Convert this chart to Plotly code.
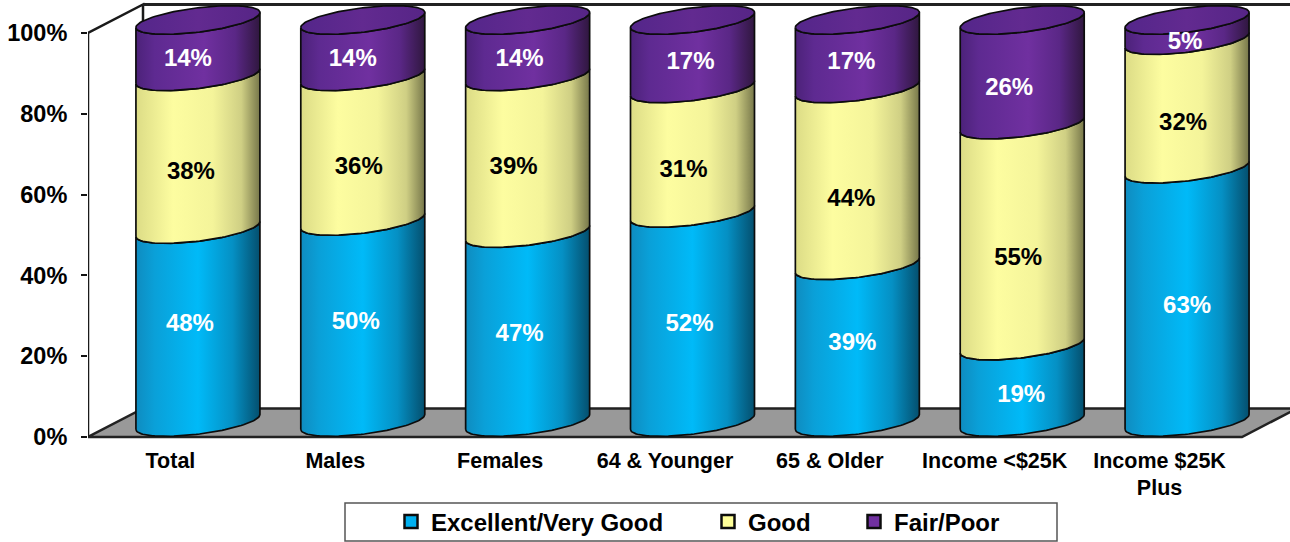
import numpy as np
import plotly.graph_objects as go

categories = ["Total", "Males", "Females", "64 &amp; Younger", "65 &amp; Older", "Income &lt;$25K", "Income $25K<br>Plus"]
excellent = [48, 50, 47, 52, 39, 19, 63]
good = [38, 36, 39, 31, 44, 55, 32]
fair = [14, 14, 14, 17, 17, 26, 5]
y_ticks = [0, 20, 40, 60, 80, 100]

# pixel nudges of the hand-placed data labels, relative to the middle of each band
nudge_x = {
    "e": [-8, -7, -8, -3, -5, -1, 0],
    "g": [-7, -4, -14, -9, -6, -4, -4],
    "f": [-10, -10, -8, -2, -6, -13, -2],
}
nudge_y = {
    "e": [-1, 1, 7, 8, 0, 12, 12],
    "g": [20, 19, 13, 20, 23, 24, 20],
    "f": [12, 12, 12, 9, 9, 17, 13],
}

FONT = "Liberation Sans"
PX_X = 1154 / 7          # pixels per category
PX_Y = 404 / 100         # pixels per percent
DX = 55 / PX_X           # chart depth in x units
DY = 28.5 / PX_Y         # chart depth in y units
A = 62 / PX_X            # cylinder radius, x
B = 12.2 / PX_Y          # ellipse minor, y
S = 7.5 / PX_Y           # ellipse tilt, y
Y0 = 15 / PX_Y           # base centre above the axis
K = 402 / 404            # height scale of the cylinders
X_OFF = 27.5 / PX_X      # cylinders sit at mid depth

BLUE = [[0, "#0f8cc0"], [0.15, "#0aa0d8"], [0.5, "#00baf8"], [0.78, "#0590c4"], [1, "#044f6e"]]
YELLOW = [[0, "#dcdc86"], [0.3, "#fdfda0"], [0.62, "#f4f49a"], [0.85, "#cfcf84"], [1, "#77774a"]]
PURPLE = [[0, "#4c2279"], [0.15, "#5e2a91"], [0.55, "#7030a0"], [0.8, "#5a2786"], [1, "#30173f"]]
TOP = [[0, "#54268a"], [0.5, "#622a90"], [1, "#562586"]]

T_FRONT = np.linspace(np.pi, 2 * np.pi, 60)
T_BACK = np.linspace(0, np.pi, 60)


def arc(cx, yc, t):
    return cx + A * np.cos(t), yc + B * np.sin(t) + S * np.cos(t)


fig = go.Figure()
common = dict(mode="lines", hoverinfo="skip", showlegend=False, cliponaxis=False)

# floor (its outline doubles as the category axis line)
fig.add_trace(go.Scatter(
    x=[-0.5, -0.5 + DX, 6.5 + DX, 6.5, -0.5], y=[0, DY, DY, 0, 0],
    fill="toself", fillcolor="#999999", line=dict(color="#222222", width=2.5), **common))
# value axis line and back wall outline
fig.add_trace(go.Scatter(
    x=[-0.5, -0.5, -0.5 + DX, -0.5 + DX], y=[0, 100, 100 + DY, DY],
    line=dict(color="#1a1a1a", width=2.5), **common))
fig.add_trace(go.Scatter(
    x=[-0.5 + DX, 6.5 + DX], y=[100 + DY, 100 + DY],
    line=dict(color="#222222", width=3), **common))

# cylinders
for i in range(len(categories)):
    cx = i + X_OFF
    base = 0
    for vals, scale in ((excellent, BLUE), (good, YELLOW), (fair, PURPLE)):
        lo = Y0 + base * K
        hi = Y0 + (base + vals[i]) * K
        xl, yl = arc(cx, lo, T_FRONT)
        xh, yh = arc(cx, hi, T_FRONT[::-1])
        fig.add_trace(go.Scatter(
            x=np.r_[xl, xh, xl[0]], y=np.r_[yl, yh, yl[0]],
            fill="toself", fillgradient=dict(type="horizontal", colorscale=scale),
            line=dict(color="#0c0c0c", width=1.7), **common))
        base += vals[i]
    yc = Y0 + base * K
    xa, ya = arc(cx, yc, T_FRONT)
    xb, yb = arc(cx, yc, T_BACK)
    fig.add_trace(go.Scatter(
        x=np.r_[xa, xb], y=np.r_[ya, yb],
        fill="toself", fillgradient=dict(type="horizontal", colorscale=TOP),
        line=dict(color="#0c0c0c", width=1.7), **common))

# data labels
base = np.zeros(len(categories))
for key, vals, colour in (("e", excellent, "white"), ("g", good, "black"), ("f", fair, "white")):
    v = np.array(vals)
    mid = Y0 + (base + v / 2) * K
    fig.add_trace(go.Scatter(
        x=np.arange(len(vals)) + X_OFF + np.array(nudge_x[key]) / PX_X,
        y=mid - np.array(nudge_y[key]) / PX_Y,
        text=[f"{n}%" for n in vals], mode="text", textposition="middle center",
        textfont=dict(family=FONT, size=24, color=colour, weight=700),
        hoverinfo="skip", showlegend=False, cliponaxis=False))
    base = base + v

# legend entries
for name, colour, lg in (("Excellent/Very Good", "#00b0f0", "legend"),
                         ("Good", "#ffff99", "legend2"),
                         ("Fair/Poor", "#7030a0", "legend3")):
    fig.add_trace(go.Scatter(
        x=[None], y=[None], mode="markers", name=name, legend=lg,
        marker=dict(symbol="square", size=13, color=colour, line=dict(color="#0c0c0c", width=2.5))))

PLOT_W = 1290 - 88
Y_BOTTOM_PAD = 4        # px of plot area under the 0% line
PLOT_H = 437 + Y_BOTTOM_PAD


def px(p):
    return (p - 88) / PLOT_W


def py(p):
    return (437 + Y_BOTTOM_PAD - p) / PLOT_H


leg = dict(yanchor="middle", xanchor="left", y=py(522), bgcolor="rgba(0,0,0,0)", borderwidth=0,
           font=dict(family=FONT, size=24, color="black", weight=700), orientation="h")

fig.update_layout(
    width=1290, height=542,
    margin=dict(l=88, r=0, t=0, b=542 - PLOT_H, autoexpand=False),
    paper_bgcolor="white", plot_bgcolor="rgba(0,0,0,0)",
    showlegend=True,
    legend=dict(x=px(391), **leg), legend2=dict(x=px(708), **leg), legend3=dict(x=px(854), **leg),
    xaxis=dict(range=[-0.5, -0.5 + PLOT_W / PX_X], tickmode="array", tickvals=list(range(7)), ticktext=categories,
               showgrid=False, zeroline=False, showline=False,
               ticks="", tickangle=0, ticklabelstandoff=4,
               tickfont=dict(family=FONT, size=21.5, color="black", weight=700)),
    yaxis=dict(range=[-Y_BOTTOM_PAD / PX_Y, 437 / PX_Y], tickmode="array", tickvals=y_ticks,
               ticktext=[f"{t}%" for t in y_ticks],
               showgrid=False, zeroline=False, showline=False,
               ticks="outside", ticklen=6, tickcolor="#111111", tickwidth=1.5, ticklabelstandoff=9,
               tickfont=dict(family=FONT, size=23.5, color="black", weight=700)),
    shapes=[dict(type="rect", xref="paper", yref="paper", x0=px(345), x1=px(1057), y0=py(541), y1=py(503),
                 line=dict(color="#555555", width=1.5), fillcolor="white", layer="below")],
)

fig.write_html("out.html", config={"displayModeBar": False},
               post_script="document.body.style.margin='0';document.documentElement.style.overflow='hidden';")
